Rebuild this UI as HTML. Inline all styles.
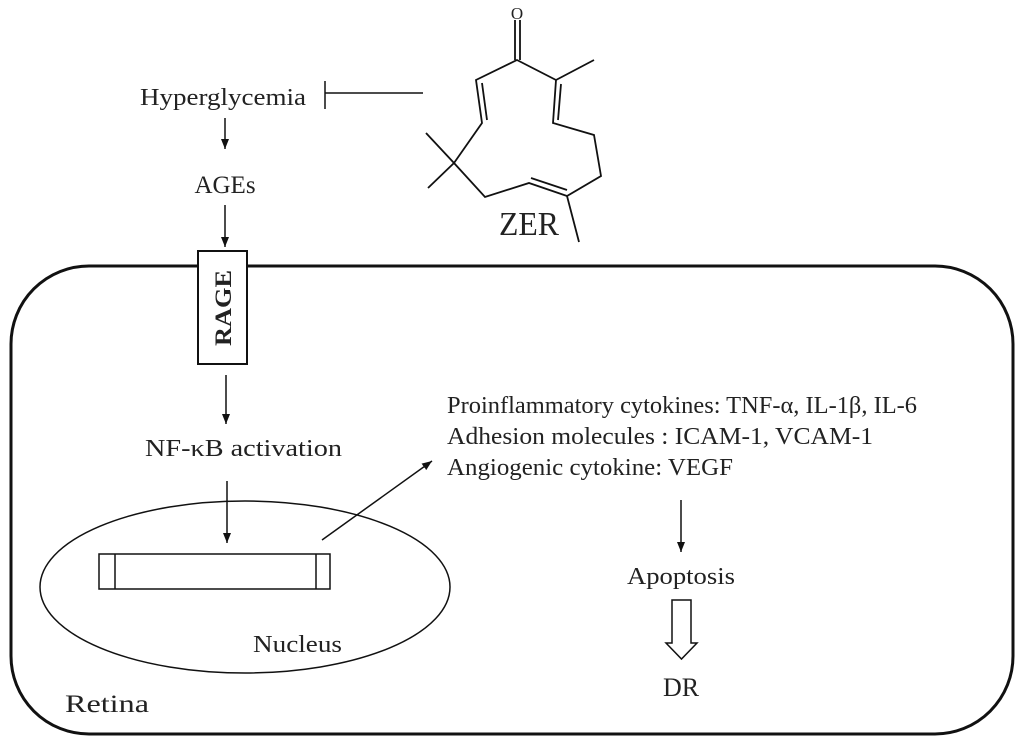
<!DOCTYPE html>
<html><head><meta charset="utf-8"><style>html,body{margin:0;padding:0;background:#fff}svg{display:block}</style></head>
<body>
<svg width="1024" height="743" viewBox="0 0 1024 743" xmlns="http://www.w3.org/2000/svg" font-family="Liberation Serif, serif" fill="#222">
<defs><marker id="a" markerWidth="12" markerHeight="12" refX="10" refY="5" orient="auto" markerUnits="userSpaceOnUse"><path d="M0,1 L10,5 L0,9 Z" fill="#111"/></marker></defs>
<g stroke="#111" fill="none" stroke-width="2">
<rect x="11" y="266" width="1002" height="468" rx="78" ry="78" stroke-width="3"/>
<rect x="198" y="251" width="49" height="113" fill="#fff"/>
<ellipse cx="245" cy="587" rx="205" ry="86" stroke-width="1.5"/>
<rect x="99" y="554" width="231" height="35" stroke-width="1.5"/>
<line x1="115" y1="554" x2="115" y2="589" stroke-width="1.5"/>
<line x1="316" y1="554" x2="316" y2="589" stroke-width="1.5"/>
<line x1="225" y1="118" x2="225" y2="149" stroke-width="1.5" marker-end="url(#a)"/>
<line x1="225" y1="205" x2="225" y2="247" stroke-width="1.5" marker-end="url(#a)"/>
<line x1="226" y1="375" x2="226" y2="424" stroke-width="1.5" marker-end="url(#a)"/>
<line x1="227" y1="481" x2="227" y2="543" stroke-width="1.5" marker-end="url(#a)"/>
<line x1="322" y1="540" x2="432" y2="461" stroke-width="1.5" marker-end="url(#a)"/>
<line x1="681" y1="500" x2="681" y2="552" stroke-width="1.5" marker-end="url(#a)"/>
<path d="M672,600 H691 V643 H697 L681.5,659 L666,643 H672 Z" stroke-width="1.5"/>
<line x1="325" y1="81" x2="325" y2="109" stroke-width="1.5"/>
<line x1="325" y1="93" x2="423" y2="93" stroke-width="1.5"/>
<g stroke-width="1.8" stroke-linejoin="miter">
<line x1="515" y1="20" x2="515" y2="60"/><line x1="520" y1="20" x2="520" y2="60"/>
<path d="M517,60 L556,80 L553,123 L594,135 L601,176 L567,196 L529,183 L485,197 L454,163 L482,123 L476,80 Z"/>
<line x1="556" y1="80" x2="594" y2="60"/>
<line x1="561" y1="84" x2="558" y2="120"/>
<line x1="567" y1="190" x2="531" y2="178"/>
<line x1="482" y1="83" x2="487" y2="120"/>
<line x1="567" y1="196" x2="579" y2="242"/>
<line x1="454" y1="163" x2="426" y2="133"/>
<line x1="454" y1="163" x2="428" y2="188"/>
</g>
</g>
<text x="517" y="19" font-size="17" text-anchor="middle">O</text>
<text x="499" y="235" font-size="34" textLength="60" lengthAdjust="spacingAndGlyphs">ZER</text>
<g font-size="24">
<text x="140" y="105" textLength="166" lengthAdjust="spacingAndGlyphs">Hyperglycemia</text>
<text x="225" y="193" font-size="25" text-anchor="middle">AGEs</text>
<text x="145" y="456" textLength="197" lengthAdjust="spacingAndGlyphs">NF-κB activation</text>
<text x="447" y="413" textLength="470" lengthAdjust="spacingAndGlyphs">Proinflammatory cytokines: TNF-α, IL-1β, IL-6</text>
<text x="447" y="444" textLength="426" lengthAdjust="spacingAndGlyphs">Adhesion molecules : ICAM-1, VCAM-1</text>
<text x="447" y="475" textLength="286" lengthAdjust="spacingAndGlyphs">Angiogenic cytokine: VEGF</text>
<text x="627" y="584" textLength="108" lengthAdjust="spacingAndGlyphs">Apoptosis</text>
<text x="681" y="696" font-size="26" text-anchor="middle">DR</text>
<text x="253" y="652" textLength="89" lengthAdjust="spacingAndGlyphs">Nucleus</text>
<text x="65" y="712" font-size="25" textLength="84" lengthAdjust="spacingAndGlyphs">Retina</text>
</g>
<text transform="translate(231,346) rotate(-90)" font-size="23" font-weight="bold" textLength="76" lengthAdjust="spacingAndGlyphs">RAGE</text>
</svg>
</body></html>
